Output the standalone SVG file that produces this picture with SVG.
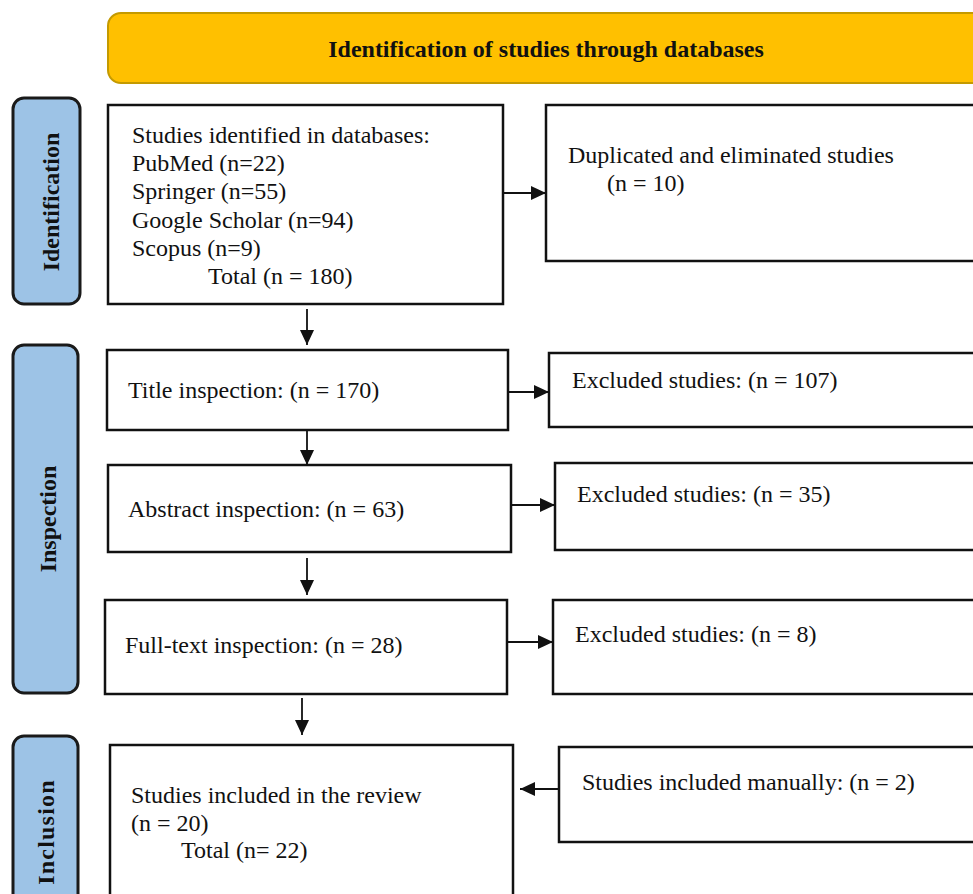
<svg xmlns="http://www.w3.org/2000/svg" width="973" height="894" viewBox="0 0 973 894">
<style>
  .box { fill: #ffffff; stroke: #111111; stroke-width: 2.5; }
  .side { fill: #9DC3E6; stroke: #1a1a1a; stroke-width: 3; }
  .banner { fill: #FFC000; stroke: #C49A00; stroke-width: 2; }
  .t { font-family: "Liberation Serif", "Times New Roman", serif; font-size: 24px; fill: #111111; }
  .b { font-family: "Liberation Serif", "Times New Roman", serif; font-size: 24px; font-weight: bold; fill: #111111; }
  .conn line { stroke: #111111; stroke-width: 1.8; fill: none; marker-end: url(#ah); }
</style>
<defs>
  <marker id="ah" viewBox="0 0 15 14" refX="15" refY="7" markerWidth="15" markerHeight="14" markerUnits="userSpaceOnUse" orient="auto">
    <path d="M0,0 L15,7 L0,14 z" fill="#111111"/>
  </marker>
</defs>
<rect width="973" height="894" fill="#ffffff"/>

<g id="banner">
  <rect class="banner" x="108" y="13" width="900" height="70" rx="13" ry="13"/>
  <text class="b" x="546" y="57" text-anchor="middle">Identification of studies through databases</text>
</g>

<g id="side-identification">
  <rect class="side" x="13" y="98" width="67" height="206" rx="11" ry="11"/>
  <text class="b" transform="translate(59,202) rotate(-90)" text-anchor="middle">Identification</text>
</g>
<g id="side-inspection">
  <rect class="side" x="13" y="345" width="65" height="348" rx="11" ry="11"/>
  <text class="b" transform="translate(56,519) rotate(-90)" text-anchor="middle">Inspection</text>
</g>
<g id="side-inclusion">
  <rect class="side" x="13" y="736" width="65" height="180" rx="11" ry="11"/>
  <text class="b" transform="translate(54,832) rotate(-90)" text-anchor="middle" letter-spacing="1.2">Inclusion</text>
</g>

<g id="node-identified">
  <rect class="box" x="108" y="105" width="395" height="199"/>
  <text class="t" x="132" y="143">Studies identified in databases:</text>
  <text class="t" x="132" y="171">PubMed (n=22)</text>
  <text class="t" x="132" y="199">Springer (n=55)</text>
  <text class="t" x="132" y="228">Google Scholar (n=94)</text>
  <text class="t" x="132" y="256">Scopus (n=9)</text>
  <text class="t" x="208" y="284">Total (n = 180)</text>
</g>
<g id="node-duplicated">
  <rect class="box" x="546" y="105" width="450" height="156"/>
  <text class="t" x="568" y="163">Duplicated and eliminated studies</text>
  <text class="t" x="607" y="191">(n = 10)</text>
</g>

<g id="node-title">
  <rect class="box" x="107" y="350" width="401" height="80"/>
  <text class="t" x="128" y="398">Title inspection: (n = 170)</text>
</g>
<g id="node-excluded-1">
  <rect class="box" x="549" y="353" width="450" height="74"/>
  <text class="t" x="572" y="388">Excluded studies: (n = 107)</text>
</g>

<g id="node-abstract">
  <rect class="box" x="108" y="465" width="403" height="87"/>
  <text class="t" x="128" y="517">Abstract inspection: (n = 63)</text>
</g>
<g id="node-excluded-2">
  <rect class="box" x="555" y="463" width="450" height="87"/>
  <text class="t" x="577" y="502">Excluded studies: (n = 35)</text>
</g>

<g id="node-fulltext">
  <rect class="box" x="105" y="600" width="402" height="94"/>
  <text class="t" x="125" y="653">Full-text inspection: (n = 28)</text>
</g>
<g id="node-excluded-3">
  <rect class="box" x="553" y="600" width="450" height="94"/>
  <text class="t" x="575" y="642">Excluded studies: (n = 8)</text>
</g>

<g id="node-included">
  <rect class="box" x="110" y="745" width="403" height="170"/>
  <text class="t" x="131" y="803">Studies included in the review</text>
  <text class="t" x="131" y="831">(n = 20)</text>
  <text class="t" x="181" y="858">Total (n= 22)</text>
</g>
<g id="node-manual">
  <rect class="box" x="559" y="747" width="450" height="95"/>
  <text class="t" x="582" y="790">Studies included manually: (n = 2)</text>
</g>

<g id="connectors" class="conn">
  <line x1="307" y1="309" x2="307" y2="345"/>
  <line x1="307" y1="431" x2="307" y2="465"/>
  <line x1="307" y1="558" x2="307" y2="595"/>
  <line x1="302" y1="698" x2="302" y2="735"/>
  <line x1="503" y1="193" x2="546" y2="193"/>
  <line x1="508" y1="392" x2="549" y2="392"/>
  <line x1="512" y1="505" x2="555" y2="505"/>
  <line x1="507" y1="642" x2="553" y2="642"/>
  <line x1="559" y1="789" x2="520" y2="789"/>
</g>
</svg>
